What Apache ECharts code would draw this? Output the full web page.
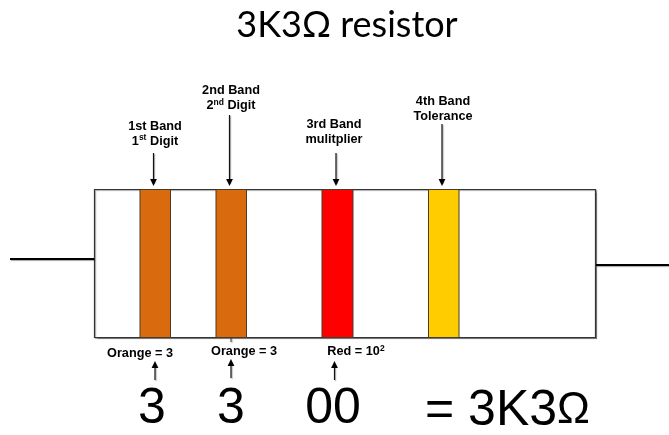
<!DOCTYPE html>
<html><head><meta charset="utf-8">
<style>html,body{margin:0;padding:0;background:#fff}#c{width:669px;height:435px}</style>
<script src="https://cdn.jsdelivr.net/npm/echarts@6/dist/echarts.min.js"></script>
</head><body><div id="c"></div>
<script>
// Resistor body and leads, in picture units
const bodyBox = [94.5, 189.5, 595.5, 337.5];
const leads = [[10, 259, 94, 259], [596, 265, 669, 265]];
// Colour bands
const bandStart = [140, 216, 322, 428.5];
const bandEnd = [170.5, 246.5, 353, 459];
const bandColors = ['#DA6A0E', '#DA6A0E', '#FF0000', '#FFCC00'];
// Arrows: x, from y, to y
const arrows = [
  [153.5, 153, 186], [229.5, 115, 186], [336, 153, 186], [442, 124, 186],
  [155, 380, 361], [231, 378, 359], [334.5, 380, 361]
];
const stubs = [[231, 338, 231, 342]];
// Text
const bandLabels = [
  [155, 133.5, '1st Band\n1{sup|st} Digit'],
  [231, 98, '2nd Band\n2{sup|nd} Digit'],
  [334, 132, '3rd Band\nmulitplier'],
  [443, 108.5, '4th Band\nTolerance']
];
const valueLabels = [
  [140, 353, 'Orange = 3'],
  [244, 351, 'Orange = 3'],
  [356, 351, 'Red = 10{sup|2}']
];
const bigLabels = [[152, 409, '3'], [231, 409, '3'], [333, 409, '00'], [507.5, 411, '= 3K3{om|Ω}']];
const titleText = '3K3Ω resistor';

const shadow = {shadowColor:'rgba(0,0,0,0.35)', shadowBlur:1, shadowOffsetX:1, shadowOffsetY:1};
function rectOf(api, x0, y0, x1, y1){
  const a = api.coord([x0,y0]), b = api.coord([x1,y1]);
  return {x:a[0], y:a[1], width:b[0]-a[0], height:b[1]-a[1]};
}
function lineEl(api, x0,y0,x1,y1,w,color){
  const a = api.coord([x0,y0]), b = api.coord([x1,y1]);
  return {type:'line', shape:{x1:a[0],y1:a[1],x2:b[0],y2:b[1]}, style:{stroke:color,lineWidth:w,...shadow}};
}
const xs = {type:'value', min:0, max:669, show:false};
const ys = {type:'value', min:0, max:435, inverse:true, show:false};

const textSeries = (data, size, bold, lh) => ({
  type:'scatter', symbolSize:0, silent:true, itemStyle:{opacity:1},
  data: data.map(d=>({value:[d[0],d[1]], txt:d[2]})),
  label:{show:true, position:'inside', align:'center', verticalAlign:'middle',
    fontFamily:'"Liberation Sans"', fontSize:size, fontWeight:bold?'bold':'normal', color:'#000', lineHeight:lh,
    formatter:p=>p.data.txt,
    rich:{
      sup:{fontSize:8.5, fontWeight:'bold', fontFamily:'"Liberation Sans"', color:'#000', verticalAlign:'top', lineHeight:lh, padding:[0,0,5,0]},
      om:{fontSize:44, fontFamily:'"Liberation Sans"', color:'#000', lineHeight:lh}
    }
  }
});

const chart = echarts.init(document.getElementById('c'), null, {renderer:'canvas'});
chart.setOption({
  animation:false,
  backgroundColor:'#fff',
  title:{text:titleText, left:342, top:2, textAlign:'center',
    textStyle:{fontFamily:'Lato', fontWeight:'normal', fontSize:36, color:'#000'}},
  grid:{left:0,right:0,top:0,bottom:0},
  xAxis:xs, yAxis:ys,
  series:[
    {type:'custom', silent:true, clip:false, data:[bodyBox],
     renderItem:(p,api)=>({type:'rect', shape:rectOf(api,bodyBox[0],bodyBox[1],bodyBox[2],bodyBox[3]),
       style:{fill:'#fff',stroke:'#333',lineWidth:1.2,...shadow}})},
    {type:'custom', silent:true, clip:false, data:leads,
     renderItem:(p,api)=>lineEl(api,api.value(0),api.value(1),api.value(2),api.value(3),2,'#000')},
    {type:'custom', silent:true, clip:false, data:bandStart.map((s,i)=>[s,bandEnd[i]]),
     renderItem:(p,api)=>({type:'rect', shape:rectOf(api,api.value(0),bodyBox[1],api.value(1),bodyBox[3]),
       style:{fill:bandColors[p.dataIndex],stroke:'#4a3a2a',lineWidth:1}})},
    {type:'custom', silent:true, clip:false, data:stubs,
     renderItem:(p,api)=>lineEl(api,api.value(0),api.value(1),api.value(2),api.value(3),1,'#333')},
    {type:'custom', silent:true, clip:false, data:arrows,
     renderItem:(p,api)=>{
       const x=api.value(0), y0=api.value(1), y1=api.value(2);
       const a=api.coord([x,y0]), b=api.coord([x,y1]);
       const dir=y1>y0?1:-1;
       return {type:'group',children:[
         {type:'line',shape:{x1:a[0],y1:a[1],x2:b[0],y2:b[1]-dir*3},style:{stroke:'#111',lineWidth:1.2,...shadow}},
         {type:'polygon',shape:{points:[[b[0],b[1]],[b[0]-3.4,b[1]-dir*7],[b[0]+3.4,b[1]-dir*7]]},style:{fill:'#000'}}
       ]};
     }},
    textSeries(bandLabels,12.7,true,15),
    textSeries(valueLabels,12.7,true,14),
    textSeries(bigLabels,50,false,56)
  ]
});
</script></body></html>
